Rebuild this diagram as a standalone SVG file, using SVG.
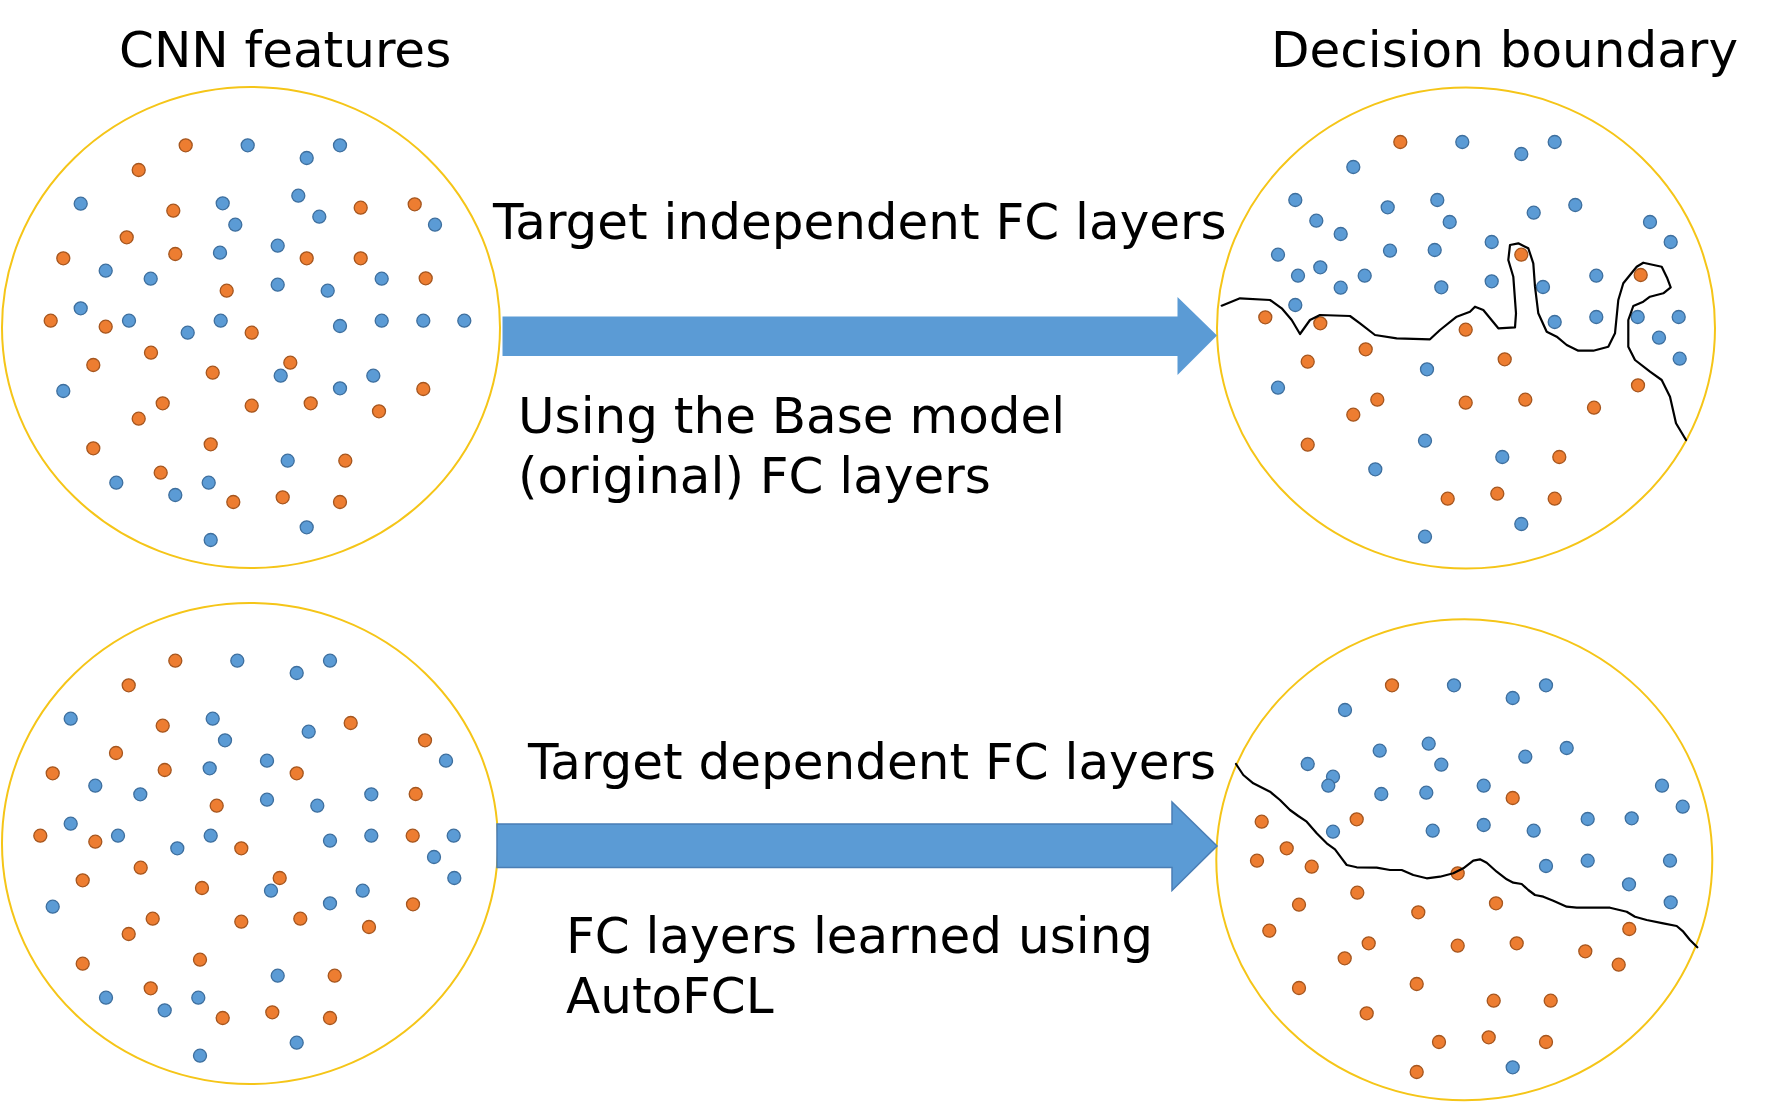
<svg xmlns="http://www.w3.org/2000/svg" xmlns:xlink="http://www.w3.org/1999/xlink" width="1767" height="1102" viewBox="0 0 1767 1102">
<style>
.lbl{font-family:"DejaVu Sans","Liberation Sans",sans-serif;font-size:50px;fill:#000}
.ring{fill:#fff;stroke:#F5C518;stroke-width:2}
.bnd{fill:none;stroke:#000;stroke-width:2.2;stroke-linejoin:round;stroke-linecap:round}
.arr{fill:#5B9BD5}
</style>
<defs>
<circle id="o" r="6.5" fill="#ED7D31" stroke="#A5561F" stroke-width="1.3"/>
<circle id="b" r="6.5" fill="#5B9BD5" stroke="#3E6F9E" stroke-width="1.3"/>
</defs>
<rect width="1767" height="1102" fill="#fff"/>

<g id="title-cnn"><text class="lbl" x="119" y="66.7">CNN features</text></g>
<g id="title-boundary"><text class="lbl" x="1271" y="66.7">Decision boundary</text></g>

<g id="features-top">
<ellipse class="ring" cx="251" cy="327.5" rx="249" ry="240.5"/>
<use href="#o" x="185.7" y="145.3"/><use href="#b" x="247.7" y="145.3"/><use href="#b" x="306.7" y="158"/><use href="#b" x="340" y="145.3"/>
<use href="#o" x="138.7" y="170"/><use href="#b" x="80.7" y="203.7"/><use href="#o" x="173.3" y="210.7"/><use href="#b" x="222.7" y="203.3"/>
<use href="#b" x="298.3" y="195.7"/><use href="#o" x="360.7" y="207.7"/><use href="#o" x="414.7" y="204.3"/><use href="#b" x="235.3" y="224.7"/>
<use href="#b" x="319.3" y="216.7"/><use href="#b" x="435" y="224.7"/><use href="#o" x="126.7" y="237.3"/><use href="#o" x="63.3" y="258.3"/>
<use href="#o" x="175.3" y="254"/><use href="#b" x="220" y="252.7"/><use href="#b" x="277.7" y="245.7"/><use href="#o" x="306.7" y="258.3"/>
<use href="#o" x="360.7" y="258.3"/><use href="#b" x="105.7" y="270.7"/><use href="#b" x="150.7" y="278.7"/><use href="#o" x="226.7" y="290.7"/>
<use href="#b" x="277.7" y="284.7"/><use href="#b" x="327.7" y="290.7"/><use href="#b" x="381.7" y="278.7"/><use href="#o" x="425.7" y="278.3"/>
<use href="#b" x="80.7" y="308.3"/><use href="#o" x="50.7" y="320.7"/><use href="#o" x="105.7" y="326.7"/><use href="#b" x="129" y="320.7"/>
<use href="#b" x="187.7" y="332.7"/><use href="#b" x="220.7" y="320.7"/><use href="#o" x="251.7" y="332.7"/><use href="#b" x="340" y="326"/>
<use href="#b" x="381.7" y="320.7"/><use href="#b" x="423.3" y="320.7"/><use href="#b" x="464.3" y="320.7"/><use href="#o" x="151" y="352.7"/>
<use href="#o" x="93.3" y="365"/><use href="#o" x="212.7" y="372.7"/><use href="#o" x="290.3" y="362.7"/><use href="#b" x="280.7" y="375.7"/>
<use href="#b" x="373.3" y="375.7"/><use href="#b" x="340" y="388.3"/><use href="#o" x="423.3" y="389"/><use href="#b" x="63.3" y="391"/>
<use href="#o" x="162.7" y="403.3"/><use href="#o" x="251.7" y="405.7"/><use href="#o" x="310.7" y="403.3"/><use href="#o" x="379" y="411.3"/>
<use href="#o" x="138.7" y="418.7"/><use href="#o" x="93.3" y="448.3"/><use href="#o" x="210.7" y="444.3"/><use href="#b" x="287.7" y="460.7"/>
<use href="#o" x="345.3" y="460.7"/><use href="#o" x="160.7" y="472.7"/><use href="#b" x="116.3" y="482.7"/><use href="#b" x="208.7" y="482.7"/>
<use href="#b" x="175.3" y="495"/><use href="#o" x="233.3" y="502"/><use href="#o" x="282.7" y="497.3"/><use href="#o" x="340" y="502"/>
<use href="#b" x="306.7" y="527.3"/><use href="#b" x="210.7" y="540"/>
</g>

<g id="boundary-top">
<ellipse class="ring" cx="1466" cy="328" rx="249" ry="240.5"/>
<use href="#o" x="1400.3" y="142"/><use href="#b" x="1462.3" y="142"/><use href="#b" x="1521.3" y="154"/><use href="#b" x="1554.7" y="142"/>
<use href="#b" x="1353.3" y="167"/><use href="#b" x="1295.3" y="200"/><use href="#b" x="1387.7" y="207.3"/><use href="#b" x="1437.3" y="200"/>
<use href="#b" x="1533.7" y="212.7"/><use href="#b" x="1575.3" y="205"/><use href="#b" x="1316.3" y="220.7"/><use href="#b" x="1449.7" y="222"/>
<use href="#b" x="1340.7" y="234"/><use href="#b" x="1650" y="222"/><use href="#b" x="1278" y="254.7"/><use href="#b" x="1390" y="250.7"/>
<use href="#b" x="1434.7" y="250"/><use href="#b" x="1491.7" y="242"/><use href="#o" x="1521.3" y="254.7"/><use href="#b" x="1670.7" y="242"/>
<use href="#b" x="1298" y="275.7"/><use href="#b" x="1320.3" y="267.3"/><use href="#b" x="1364.7" y="275.7"/><use href="#b" x="1340.7" y="287.7"/>
<use href="#b" x="1441.3" y="287.3"/><use href="#b" x="1491.7" y="281.3"/><use href="#b" x="1543" y="287"/><use href="#b" x="1596.3" y="275.7"/>
<use href="#o" x="1640.7" y="275"/><use href="#b" x="1295.3" y="305"/><use href="#o" x="1265.3" y="317.3"/><use href="#o" x="1320.3" y="323.3"/>
<use href="#o" x="1465.7" y="329.7"/><use href="#b" x="1554.7" y="322"/><use href="#b" x="1596.3" y="317"/><use href="#b" x="1637.7" y="317"/>
<use href="#b" x="1678.7" y="317"/><use href="#b" x="1659" y="337.7"/><use href="#b" x="1679.7" y="358.7"/><use href="#o" x="1365.7" y="349.3"/>
<use href="#o" x="1307.7" y="361.7"/><use href="#b" x="1427" y="369.3"/><use href="#o" x="1504.7" y="359.3"/><use href="#o" x="1638" y="385.3"/>
<use href="#b" x="1278" y="387.7"/><use href="#o" x="1377.3" y="399.7"/><use href="#o" x="1465.7" y="402.7"/><use href="#o" x="1525.3" y="399.7"/>
<use href="#o" x="1594" y="407.7"/><use href="#o" x="1353.3" y="414.7"/><use href="#o" x="1307.7" y="444.7"/><use href="#b" x="1425" y="440.7"/>
<use href="#b" x="1502.3" y="457"/><use href="#o" x="1559.3" y="457"/><use href="#b" x="1375.3" y="469.3"/><use href="#o" x="1447.7" y="498.7"/>
<use href="#o" x="1497.3" y="493.7"/><use href="#o" x="1554.7" y="498.7"/><use href="#b" x="1521.3" y="524"/><use href="#b" x="1425" y="536.7"/>
<polyline class="bnd" points="1221.7,305.7 1240,298.3 1270,300 1281.7,308.3 1291.7,320 1300,334 1310,320 1320,315 1350,316 1360,323.3 1375,335 1396.7,338.3 1430,339.3 1440,330 1456.7,316.7 1470,311.7 1475,306.7 1483.3,310 1498.3,328.3 1515,327.3 1516,313.3 1513.3,276.7 1508.3,260 1510,245 1518.3,243.3 1528.3,248.3 1533.3,263.3 1535,286.7 1538.3,313.3 1546.7,331.7 1556.7,336.7 1566.7,345 1578.3,350.7 1593.3,350.7 1608.3,346.7 1615,333.3 1618.3,300 1623.3,283.3 1636.7,266.7 1643.3,262.7 1661.7,266.7 1667.3,278.3 1670.7,287.3 1663.3,293.3 1650,296.7 1643.3,301.7 1633.3,306 1628.3,320 1628.3,346.7 1635,360 1650,371.7 1661.7,380 1670,396.7 1676,423.3 1686,440"/>
</g>

<g id="features-bottom">
<ellipse class="ring" cx="250" cy="843.5" rx="248" ry="240.5"/>
<use href="#o" x="175.3" y="660.7"/><use href="#b" x="237.3" y="660.7"/><use href="#b" x="296.7" y="673"/><use href="#b" x="330" y="660.7"/>
<use href="#o" x="128.7" y="685.3"/><use href="#b" x="70.7" y="718.7"/><use href="#o" x="162.7" y="725.7"/><use href="#b" x="212.7" y="718.7"/>
<use href="#b" x="308.7" y="731.7"/><use href="#o" x="350.7" y="723"/><use href="#b" x="225" y="740.3"/><use href="#o" x="425" y="740.3"/>
<use href="#o" x="116" y="753"/><use href="#o" x="52.7" y="773.3"/><use href="#o" x="164.7" y="770"/><use href="#b" x="209.7" y="768.3"/>
<use href="#b" x="267" y="760.7"/><use href="#o" x="296.7" y="773.3"/><use href="#b" x="446" y="760.7"/><use href="#b" x="95.3" y="785.7"/>
<use href="#b" x="140.3" y="794.3"/><use href="#o" x="216.7" y="805.7"/><use href="#b" x="267" y="799.7"/><use href="#b" x="317.3" y="805.7"/>
<use href="#b" x="371.3" y="794.3"/><use href="#o" x="415.7" y="794"/><use href="#b" x="70.7" y="823.7"/><use href="#o" x="40.3" y="835.7"/>
<use href="#o" x="95.3" y="841.7"/><use href="#b" x="118" y="835.7"/><use href="#b" x="177.3" y="848.3"/><use href="#b" x="210.7" y="835.7"/>
<use href="#o" x="241.3" y="848.3"/><use href="#b" x="330" y="840.7"/><use href="#b" x="371.3" y="835.7"/><use href="#o" x="412.7" y="835.7"/>
<use href="#b" x="453.7" y="835.7"/><use href="#b" x="434" y="857"/><use href="#b" x="454.3" y="878"/><use href="#o" x="140.7" y="867.7"/>
<use href="#o" x="82.7" y="880.3"/><use href="#o" x="202" y="888"/><use href="#o" x="279.7" y="878"/><use href="#b" x="271" y="890.7"/>
<use href="#b" x="362.7" y="890.7"/><use href="#b" x="330" y="903.3"/><use href="#o" x="413" y="904.3"/><use href="#b" x="52.7" y="906.7"/>
<use href="#o" x="152.7" y="918.7"/><use href="#o" x="241.3" y="921.7"/><use href="#o" x="300.3" y="918.7"/><use href="#o" x="369" y="927"/>
<use href="#o" x="128.7" y="934"/><use href="#o" x="82.7" y="963.7"/><use href="#o" x="200" y="959.7"/><use href="#b" x="277.7" y="975.7"/>
<use href="#o" x="334.7" y="975.7"/><use href="#o" x="150.7" y="988.3"/><use href="#b" x="106" y="997.7"/><use href="#b" x="198.3" y="997.7"/>
<use href="#b" x="164.7" y="1010.3"/><use href="#o" x="222.7" y="1018"/><use href="#o" x="272.3" y="1012.3"/><use href="#o" x="330" y="1018"/>
<use href="#b" x="296.7" y="1042.7"/><use href="#b" x="200" y="1055.7"/>
</g>

<g id="boundary-bottom">
<ellipse class="ring" cx="1464.3" cy="859.7" rx="248" ry="240.5"/>
<use href="#o" x="1392" y="685.3"/><use href="#b" x="1454" y="685.3"/><use href="#b" x="1512.7" y="698"/><use href="#b" x="1546" y="685.3"/>
<use href="#b" x="1345" y="710"/><use href="#b" x="1307.7" y="764"/><use href="#b" x="1379.7" y="750.7"/><use href="#b" x="1428.7" y="743.7"/>
<use href="#b" x="1441.3" y="764.7"/><use href="#b" x="1525.3" y="756.7"/><use href="#b" x="1566.7" y="748"/><use href="#b" x="1333" y="776.7"/>
<use href="#b" x="1328.3" y="785.7"/><use href="#b" x="1381.3" y="794"/><use href="#b" x="1426.3" y="792.7"/><use href="#b" x="1483.7" y="785.7"/>
<use href="#o" x="1512.7" y="798"/><use href="#b" x="1662" y="785.7"/><use href="#b" x="1682.7" y="806.7"/><use href="#o" x="1261.7" y="821.7"/>
<use href="#o" x="1356.7" y="819.3"/><use href="#b" x="1333" y="831.7"/><use href="#b" x="1432.7" y="830.7"/><use href="#b" x="1483.7" y="825"/>
<use href="#b" x="1533.7" y="830.7"/><use href="#b" x="1587.7" y="819"/><use href="#b" x="1631.7" y="818.3"/><use href="#o" x="1286.7" y="848.3"/>
<use href="#o" x="1257" y="860.7"/><use href="#o" x="1311.7" y="866.7"/><use href="#o" x="1457.7" y="873.3"/><use href="#b" x="1546" y="866"/>
<use href="#b" x="1587.7" y="860.7"/><use href="#b" x="1670" y="860.7"/><use href="#b" x="1629" y="884.3"/><use href="#b" x="1670.7" y="902.3"/>
<use href="#o" x="1357.3" y="892.7"/><use href="#o" x="1299" y="904.7"/><use href="#o" x="1418.3" y="912.3"/><use href="#o" x="1496" y="903.3"/>
<use href="#o" x="1629.3" y="929"/><use href="#o" x="1269.3" y="930.7"/><use href="#o" x="1368.7" y="943.3"/><use href="#o" x="1457.7" y="945.7"/>
<use href="#o" x="1516.7" y="943.3"/><use href="#o" x="1585.3" y="951.3"/><use href="#o" x="1344.7" y="958.3"/><use href="#o" x="1618.7" y="964.7"/>
<use href="#o" x="1299" y="988"/><use href="#o" x="1416.7" y="984"/><use href="#o" x="1493.7" y="1000.7"/><use href="#o" x="1550.7" y="1000.7"/>
<use href="#o" x="1366.7" y="1013.3"/><use href="#o" x="1439" y="1042"/><use href="#o" x="1488.7" y="1037.3"/><use href="#o" x="1546" y="1042"/>
<use href="#b" x="1512.7" y="1067.3"/><use href="#o" x="1416.7" y="1072"/>
<polyline class="bnd" points="1236,764 1243.3,775 1253.3,783.3 1270,791.7 1280,800 1290,810 1298.3,816 1306.7,821.7 1316.7,833.3 1326.7,843.3 1335,849.3 1341.7,858.3 1346.7,865 1356.7,867.3 1376.7,867.7 1390,870 1401.7,870 1413.3,875 1426.7,878.3 1440,876.7 1453.3,873.3 1463.3,868.3 1473.3,860.7 1480,859.3 1486.7,862.7 1496.7,871.7 1506.7,879.3 1513.3,882.7 1521.7,884 1528.3,890 1535,895 1543.3,896.7 1553.3,900.7 1566.7,906.7 1576.7,907.7 1610,907.7 1626.7,911.7 1635,916.7 1646.7,920 1663.3,923.3 1676.7,926 1683.3,931.7 1690,940 1697.3,947.3"/>
</g>

<g id="connectors">
<polygon class="arr" points="502.5,316.5 1177.5,316.5 1177.5,297 1217,335.5 1177.5,375 1177.5,356 502.5,356"/>
<polygon class="arr" stroke="#4A7EB5" stroke-width="1.5" points="497,824 1172,824 1172,802 1217,846 1172,890.5 1172,867.5 497,867.5"/>
</g>

<g id="label-top">
<text class="lbl" x="493" y="239.3">Target independent FC layers</text>
<text class="lbl" x="518" y="432.7">Using the Base model</text>
<text class="lbl" x="518" y="492.7">(original) FC layers</text>
</g>
<g id="label-bottom">
<text class="lbl" x="528" y="779.3">Target dependent FC layers</text>
<text class="lbl" x="566" y="952.7">FC layers learned using</text>
<text class="lbl" x="566" y="1012.7">AutoFCL</text>
</g>
</svg>
